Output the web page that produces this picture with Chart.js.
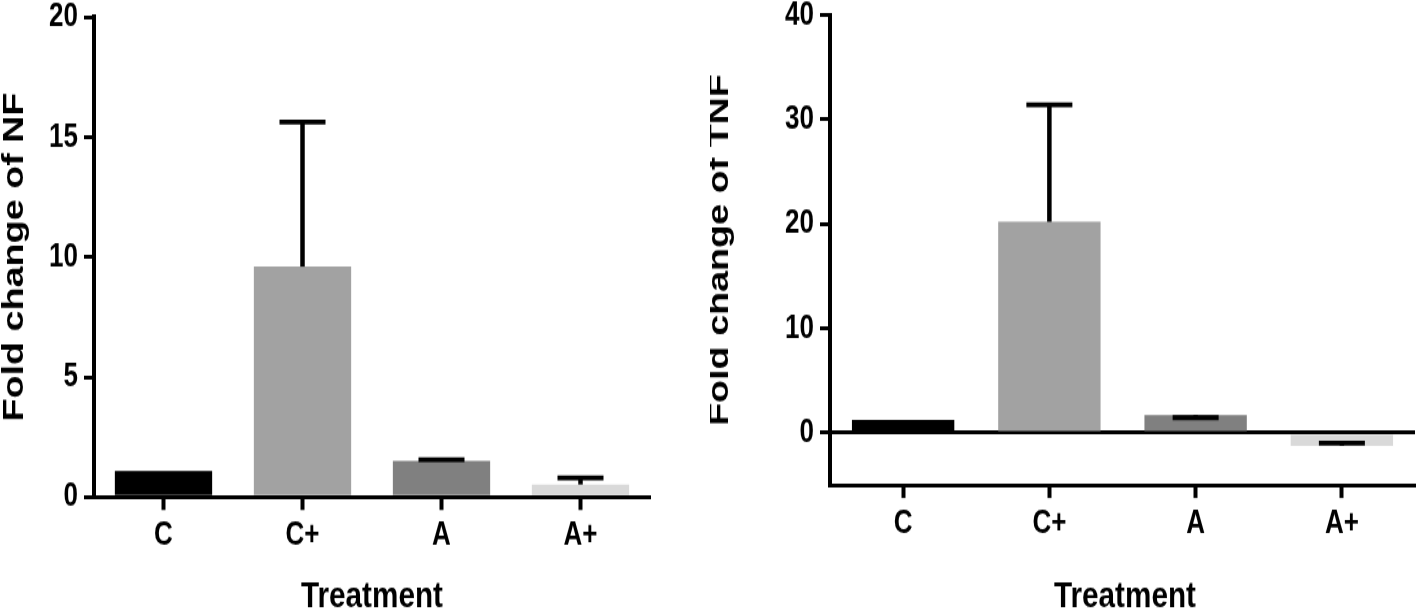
<!DOCTYPE html>
<html>
<head>
<meta charset="utf-8">
<script src="https://cdn.jsdelivr.net/npm/chart.js@4.4.0/dist/chart.umd.min.js"></script>
<style>
  html, body { margin: 0; padding: 0; background: #fff; }
  body { width: 1418px; height: 616px; overflow: hidden; position: relative; }
  /* the figure is stretched vertically, so draw flat and scale up */
  .panel { position: absolute; top: 0; transform-origin: 0 0; transform: scaleY(1.3); }
  #left-panel { left: 0; }
  #right-panel { left: 710px; }
</style>
</head>
<body>
<div class="panel" id="left-panel"><canvas id="chart-nf" width="710" height="474"></canvas></div>
<div class="panel" id="right-panel"><canvas id="chart-tnf" width="708" height="474"></canvas></div>
<script>
const treatments = ['C', 'C+', 'A', 'A+']
const barColors = ['#000000', '#a2a2a2', '#808080', '#d9d9d9']

const nfFold = [1.08, 9.6, 1.5, 0.52]
const nfErrorTop = [null, 15.62, 1.55, 0.8]
const nfTicks = [0, 5, 10, 15, 20]

const tnfFold = [1.25, 20.2, 1.7, -1.25]
const tnfErrorTop = [null, 31.4, 1.45, -1.0]
const tnfTicks = [0, 10, 20, 30, 40]

const FONT = "'Liberation Sans', Arial, sans-serif"

const errorBars = {
  id: 'errorBars',
  afterDatasetsDraw (chart) {
    const { ctx } = chart
    const y = chart.scales.y
    const dataset = chart.data.datasets[0]
    const meta = chart.getDatasetMeta(0)
    ctx.save()
    ctx.strokeStyle = '#000'
    meta.data.forEach((bar, i) => {
      const top = dataset.errorTop[i]
      if (top === null) return
      const yMean = y.getPixelForValue(dataset.data[i])
      const yTop = y.getPixelForValue(top)
      ctx.lineWidth = 4.5
      ctx.beginPath()
      ctx.moveTo(bar.x, yMean)
      ctx.lineTo(bar.x, yTop)
      ctx.stroke()
      ctx.lineWidth = 3.8
      ctx.beginPath()
      ctx.moveTo(bar.x - 23, yTop)
      ctx.lineTo(bar.x + 23, yTop)
      ctx.stroke()
    })
    ctx.restore()
  }
}

const axisTitles = {
  id: 'axisTitles',
  afterDraw (chart, args, opts) {
    const { ctx, chartArea } = chart
    ctx.save()
    ctx.fillStyle = '#000'
    ctx.textAlign = 'center'
    ctx.textBaseline = 'middle'
    ctx.font = `bold 29px ${FONT}`
    ctx.translate(opts.yTitleX, (chartArea.top + chartArea.bottom) / 2)
    ctx.rotate(-Math.PI / 2)
    ctx.fillText(opts.yTitle, 0, 0)
    ctx.restore()

    ctx.save()
    ctx.fillStyle = '#000'
    ctx.textAlign = 'center'
    ctx.textBaseline = 'middle'
    ctx.font = `bold 27px ${FONT}`
    ctx.translate(opts.xTitleX, opts.xTitleY)
    ctx.scale(1.1, 1)
    ctx.fillText(opts.xTitle, 0, 0)
    ctx.restore()
  }
}

const makeChart = (id, cfg) => new Chart(document.getElementById(id), {
  type: 'bar',
  data: {
    labels: treatments,
    datasets: [{
      data: cfg.values,
      errorTop: cfg.errors,
      backgroundColor: barColors,
      borderWidth: 0,
      barPercentage: 0.7,
      categoryPercentage: 1
    }]
  },
  options: {
    responsive: false,
    animation: false,
    devicePixelRatio: 1,
    layout: { padding: { top: cfg.top, right: cfg.right, left: 0, bottom: 0 } },
    plugins: {
      legend: { display: false },
      tooltip: { enabled: false },
      axisTitles: {
        yTitle: cfg.yTitle,
        yTitleX: cfg.yTitleX,
        xTitle: 'Treatment',
        xTitleX: cfg.xTitleX,
        xTitleY: 459.5
      }
    },
    scales: {
      x: {
        offset: true,
        border: { color: '#000', width: 3 },
        grid: { offset: false, drawOnChartArea: false, tickLength: 10, tickWidth: 4, tickColor: '#000' },
        ticks: { color: '#000', font: { family: FONT, size: 26, weight: 'bold' }, padding: 4, maxRotation: 0 },
        afterFit: (s) => { s.height = cfg.xHeight }
      },
      y: {
        min: cfg.min,
        max: cfg.max,
        afterBuildTicks: (s) => { s.ticks = cfg.ticks.map((value) => ({ value })) },
        border: { color: '#000', width: 4 },
        grid: {
          drawOnChartArea: cfg.zeroLine,
          color: (ctx) => (ctx.tick && ctx.tick.value === 0 ? '#000' : 'rgba(0,0,0,0)'),
          lineWidth: 3,
          tickLength: 10,
          tickWidth: 3,
          tickColor: '#000'
        },
        ticks: { color: '#000', font: { family: FONT, size: 26, weight: 'bold' }, padding: 6 },
        afterFit: (s) => {
          s.width = cfg.yWidth
          s.paddingTop = 0
          s.paddingBottom = 0
        }
      }
    }
  },
  plugins: [errorBars, axisTitles]
})

makeChart('chart-nf', {
  values: nfFold,
  errors: nfErrorTop,
  ticks: nfTicks,
  min: 0,
  max: 20,
  zeroLine: false,
  top: 13.1,
  right: 60,
  yWidth: 94,
  xHeight: 91.7,
  yTitle: 'Fold change of NF',
  yTitleX: 15,
  xTitleX: 372
})

makeChart('chart-tnf', {
  values: tnfFold,
  errors: tnfErrorTop,
  ticks: tnfTicks,
  min: -5,
  max: 40,
  zeroLine: true,
  top: 11.5,
  right: 3,
  yWidth: 120,
  xHeight: 100.9,
  yTitle: 'Fold change of TNF',
  yTitleX: 10,
  xTitleX: 415
})
</script>
</body>
</html>
